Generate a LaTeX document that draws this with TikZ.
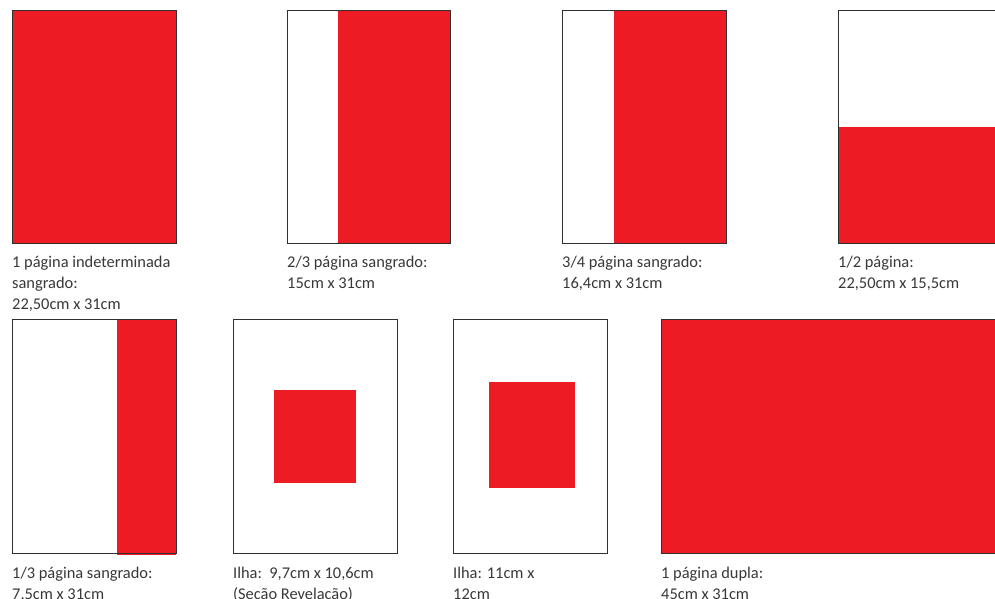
\documentclass[tikz,border=0pt]{standalone}
\usepackage{fontspec}
\setmainfont{Carlito}
\usepackage{xcolor}
\usepackage{tikz}
\usetikzlibrary{positioning}
\definecolor{adRed}{HTML}{ED1C24}
\definecolor{adText}{HTML}{383838}
\definecolor{adEdge}{HTML}{303030}

\begin{document}
\begin{tikzpicture}[x=1pt, y=-1pt, page/.style={draw=adEdge, line width=0.9pt}, ink/.style={fill=adRed}, lbl/.style={anchor=base west, inner sep=0pt, align=left, text=adText, font=\fontsize{16.4}{21}\selectfont}]
  \fill[white] (0,0) rectangle (995,599);
  \clip (0,0) rectangle (995,599);
  % row 1: full, 2/3, 3/4, 1/2 (label anchored on its last baseline)
  \fill[ink] (12,10) rectangle (176,243);
  \draw[page] (12,10) rectangle (176,243);
  \node[lbl] (full) at (12,309) {1 página indeterminada\\sangrado:\\22,50cm x 31cm};
  \fill[ink] (338,10) rectangle (450,243);
  \draw[page] (287,10) rectangle (450,243);
  \node[lbl] (twothirds) at (287,288) {2/3 página sangrado:\\15cm x 31cm};
  \fill[ink] (614,10) rectangle (726,243);
  \draw[page] (562,10) rectangle (726,243);
  \node[lbl] (threequarters) at (562,288) {3/4 página sangrado:\\16,4cm x 31cm};
  \fill[ink] (838,127) rectangle (1010,243);
  \draw[page] (838,10) rectangle (1010,243);
  \node[lbl] (half) at (838,288) {1/2 página:\\22,50cm x 15,5cm};
  % row 2: 1/3, ilha, ilha, dupla
  \fill[ink] (117,319) rectangle (176,555);
  \draw[page] (12,319) rectangle (176,553);
  \node[lbl] (third) at (12,599) {1/3 página sangrado:\\7,5cm x 31cm};
  \draw[page] (233,319) rectangle (397,553);
  \fill[ink] (274,390) rectangle (356,483);
  \node[lbl] (islandA) at (233,599) {Ilha:\ \ 9,7cm x 10,6cm\\(Seção Revelação)};
  \draw[page] (453,319) rectangle (607,553);
  \fill[ink] (489,382) rectangle (575,488);
  \node[lbl] (islandB) at (453,599) {Ilha: 11cm x\\12cm};
  \fill[ink] (661,319) rectangle (1010,553);
  \draw[page] (661,319) rectangle (1010,553);
  \node[lbl] (double) at (661,599) {1 página dupla:\\45cm x 31cm};
\end{tikzpicture}
\end{document}
